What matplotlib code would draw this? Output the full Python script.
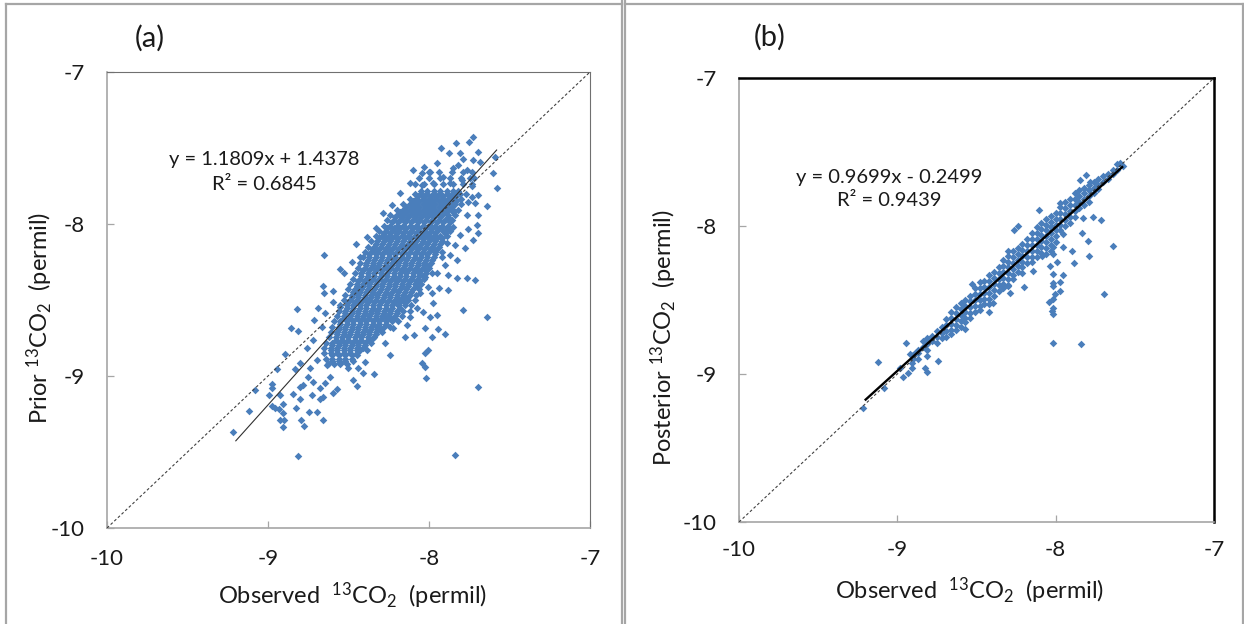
import matplotlib
matplotlib.use("Agg")
import matplotlib.pyplot as plt
from matplotlib.lines import Line2D

plt.rcParams['font.family'] = ['Lato', 'DejaVu Sans']
plt.rcParams['mathtext.fontset'] = 'custom'
plt.rcParams['mathtext.rm'] = 'Lato'
plt.rcParams['mathtext.default'] = 'regular'
plt.rcParams['axes.unicode_minus'] = False

W, H = 1244, 624
BLUE = '#4A7EBB'

# ---------- panel (a): dense core, one observed list per prior level
core_prior_a = [-7.78,-7.815,-7.85,-7.885,-7.92,-7.955,-7.99,-8.025,-8.06,-8.095,-8.13,-8.165,-8.20,-8.235,-8.27,-8.305,
                -8.34,-8.375,-8.41,-8.445,-8.48,-8.515,-8.55,-8.585,-8.62,-8.655,-8.69,-8.725,-8.76,-8.795,-8.83,-8.865,-8.90]
core_obs_a = [
 [-8.05,-8.01,-7.97,-7.93,-7.89,-7.85,-7.82],
 [-8.07,-8.03,-7.99,-7.95,-7.91,-7.87,-7.83],
 [-8.10,-8.06,-8.02,-7.98,-7.94,-7.90,-7.86,-7.83],
 [-8.14,-8.10,-8.06,-8.02,-7.98,-7.94,-7.90,-7.86],
 [-8.18,-8.14,-8.10,-8.06,-8.02,-7.98,-7.94,-7.90,-7.85],
 [-8.21,-8.17,-8.13,-8.09,-8.05,-8.01,-7.97,-7.93,-7.88],
 [-8.23,-8.19,-8.15,-8.11,-8.07,-8.03,-7.99,-7.95,-7.91,-7.87],
 [-8.26,-8.22,-8.18,-8.14,-8.10,-8.06,-8.02,-7.98,-7.94,-7.89],
 [-8.28,-8.24,-8.20,-8.16,-8.12,-8.08,-8.04,-8.00,-7.96,-7.90],
 [-8.31,-8.27,-8.23,-8.19,-8.15,-8.11,-8.07,-8.03,-7.99,-7.95,-7.92],
 [-8.33,-8.29,-8.25,-8.21,-8.17,-8.13,-8.09,-8.05,-8.01,-7.97,-7.93],
 [-8.35,-8.31,-8.27,-8.23,-8.19,-8.15,-8.11,-8.07,-8.03,-7.99,-7.95],
 [-8.37,-8.33,-8.29,-8.25,-8.21,-8.17,-8.13,-8.09,-8.05,-8.01,-7.96],
 [-8.38,-8.34,-8.30,-8.26,-8.22,-8.18,-8.14,-8.10,-8.06,-8.02,-7.98],
 [-8.39,-8.35,-8.31,-8.27,-8.23,-8.19,-8.15,-8.11,-8.07,-8.03,-8.00],
 [-8.41,-8.37,-8.33,-8.29,-8.25,-8.21,-8.17,-8.13,-8.09,-8.05,-8.02],
 [-8.42,-8.38,-8.34,-8.30,-8.26,-8.22,-8.18,-8.14,-8.10,-8.06,-8.04],
 [-8.44,-8.40,-8.36,-8.32,-8.28,-8.24,-8.20,-8.16,-8.12,-8.08,-8.06],
 [-8.45,-8.41,-8.37,-8.33,-8.29,-8.25,-8.21,-8.17,-8.13,-8.08],
 [-8.47,-8.43,-8.39,-8.35,-8.31,-8.27,-8.23,-8.19,-8.15,-8.11],
 [-8.48,-8.44,-8.40,-8.36,-8.32,-8.28,-8.24,-8.20,-8.16,-8.13],
 [-8.50,-8.46,-8.42,-8.38,-8.34,-8.30,-8.26,-8.22,-8.18,-8.15],
 [-8.51,-8.47,-8.43,-8.39,-8.35,-8.31,-8.27,-8.23,-8.18],
 [-8.52,-8.48,-8.44,-8.40,-8.36,-8.32,-8.28,-8.24,-8.20],
 [-8.53,-8.49,-8.45,-8.41,-8.37,-8.33,-8.29,-8.25,-8.22],
 [-8.55,-8.51,-8.47,-8.43,-8.39,-8.35,-8.31,-8.27],
 [-8.56,-8.52,-8.48,-8.44,-8.40,-8.36,-8.32,-8.30],
 [-8.57,-8.53,-8.49,-8.45,-8.41,-8.37,-8.33],
 [-8.58,-8.54,-8.50,-8.46,-8.42,-8.38],
 [-8.60,-8.56,-8.52,-8.48,-8.44,-8.40],
 [-8.61,-8.57,-8.53,-8.49,-8.45,-8.43],
 [-8.60,-8.56,-8.52,-8.48,-8.45],
 [-8.60,-8.56,-8.52,-8.47],
]
# in-between levels of the same core, reaching a little further out
mid_prior_a = [-7.66,-7.70,-7.74,-7.80,-7.835,-7.87,-7.905,-7.94,-7.975,-8.01,-8.045,-8.08,-8.115,-8.15,-8.185,-8.22,-8.255,-8.29,
               -8.325,-8.36,-8.395,-8.43,-8.465,-8.50,-8.535,-8.57,-8.605,-8.64,-8.675,-8.71,-8.745,-8.78,-8.815,-8.85,-8.885,-8.92]
mid_obs_a = [
 [-8.00,-7.94,-7.86,-7.79,-7.73],
 [-8.06,-8.00,-7.93,-7.87,-7.80,-7.72],
 [-8.09,-8.03,-7.97,-7.91,-7.85,-7.79,-7.73],
 [-8.09,-8.05,-8.01,-7.97,-7.93,-7.89,-7.85,-7.81,-7.77],
 [-8.12,-8.08,-8.04,-8.00,-7.96,-7.92,-7.88,-7.84,-7.80],
 [-8.16,-8.12,-8.08,-8.04,-8.00,-7.96,-7.92,-7.88,-7.84,-7.80],
 [-8.20,-8.16,-8.12,-8.08,-8.04,-8.00,-7.96,-7.92,-7.88,-7.85,-7.82],
 [-8.24,-8.20,-8.16,-8.12,-8.08,-8.04,-8.00,-7.96,-7.92,-7.88,-7.84],
 [-8.26,-8.22,-8.18,-8.14,-8.10,-8.06,-8.02,-7.98,-7.94,-7.90,-7.86],
 [-8.28,-8.24,-8.20,-8.16,-8.12,-8.08,-8.04,-8.00,-7.96,-7.92,-7.88],
 [-8.31,-8.27,-8.23,-8.19,-8.15,-8.11,-8.07,-8.03,-7.99,-7.95,-7.91,-7.87],
 [-8.33,-8.29,-8.25,-8.21,-8.17,-8.13,-8.09,-8.05,-8.01,-7.97,-7.93,-7.89],
 [-8.36,-8.32,-8.28,-8.24,-8.20,-8.16,-8.12,-8.08,-8.04,-8.00,-7.96,-7.92],
 [-8.38,-8.34,-8.30,-8.26,-8.22,-8.18,-8.14,-8.10,-8.06,-8.02,-7.98,-7.94],
 [-8.40,-8.36,-8.32,-8.28,-8.24,-8.20,-8.16,-8.12,-8.08,-8.04,-8.00,-7.96,-7.92],
 [-8.41,-8.37,-8.33,-8.29,-8.25,-8.21,-8.17,-8.13,-8.09,-8.05,-8.01,-7.97],
 [-8.43,-8.39,-8.35,-8.31,-8.27,-8.23,-8.19,-8.15,-8.11,-8.07,-8.03,-7.99],
 [-8.44,-8.40,-8.36,-8.32,-8.28,-8.24,-8.20,-8.16,-8.12,-8.08,-8.04,-8.00],
 [-8.46,-8.42,-8.38,-8.34,-8.30,-8.26,-8.22,-8.18,-8.14,-8.10,-8.06,-8.02,-7.98],
 [-8.47,-8.43,-8.39,-8.35,-8.31,-8.27,-8.23,-8.19,-8.15,-8.11,-8.07,-8.03],
 [-8.49,-8.45,-8.41,-8.37,-8.33,-8.29,-8.25,-8.21,-8.17,-8.13,-8.09,-8.05],
 [-8.50,-8.46,-8.42,-8.38,-8.34,-8.30,-8.26,-8.22,-8.18,-8.14,-8.10,-8.06],
 [-8.52,-8.48,-8.44,-8.40,-8.36,-8.32,-8.28,-8.24,-8.20,-8.16,-8.12,-8.08],
 [-8.53,-8.49,-8.45,-8.41,-8.37,-8.33,-8.29,-8.25,-8.21,-8.17,-8.13,-8.09],
 [-8.55,-8.51,-8.47,-8.43,-8.39,-8.35,-8.31,-8.27,-8.23,-8.19,-8.15,-8.11],
 [-8.56,-8.52,-8.48,-8.44,-8.40,-8.36,-8.32,-8.28,-8.24,-8.20,-8.16,-8.12],
 [-8.57,-8.53,-8.49,-8.45,-8.41,-8.37,-8.33,-8.29,-8.25,-8.21,-8.17],
 [-8.59,-8.55,-8.51,-8.47,-8.43,-8.39,-8.35,-8.31,-8.27,-8.23,-8.19],
 [-8.60,-8.56,-8.52,-8.48,-8.44,-8.40,-8.36,-8.32,-8.28,-8.24],
 [-8.61,-8.57,-8.53,-8.49,-8.45,-8.41,-8.37,-8.33,-8.29],
 [-8.62,-8.58,-8.54,-8.50,-8.46,-8.42,-8.38,-8.34],
 [-8.64,-8.60,-8.56,-8.52,-8.48,-8.44,-8.40,-8.36],
 [-8.65,-8.61,-8.57,-8.53,-8.49,-8.45,-8.41],
 [-8.65,-8.61,-8.57,-8.53,-8.49,-8.45],
 [-8.64,-8.60,-8.56,-8.52,-8.48],
 [-8.63,-8.59,-8.55,-8.51],
]
# ---------- panel (a): scattered edge points and outliers
edge_obs_a = [-9.215,-9.118,-9.081,-8.944,-8.892,-8.812,-7.838,-7.698,-7.638,-7.789,-8.019,-8.045,-8.025,-8.004,-8.025,
 -8.652,-8.820,-8.859,-8.814,-8.716,-8.687,-8.657,-8.65,-8.594,-8.553,-8.526,-8.454,-8.429,-8.329,-8.284,
 -7.923,-7.834,-7.729,-7.752,-7.59,-7.605,-7.58,-7.642,-7.694,-7.694,-7.725,-7.766,-7.714,-7.824,-7.88,-7.88,-7.936,-7.948,
 -7.9,-7.946,-8.025,-7.98,-8.091,-8.149,-8.242,-8.273,-8.339,-8.408,-8.45,-8.47,-8.57,-8.598,-8.656,-8.694,-8.743,-8.776,
 -8.797,-8.826,-8.905,-8.899,-8.925,-8.905,-8.932,-8.905,-8.956,-8.977,-8.925,-8.994,-8.973,-8.977,-8.843,-8.801,-8.729,
 -8.677,-8.656,-8.832,-8.801,-8.76,-8.801,-8.78,-8.75,-8.718,-8.677,-8.646,-8.615,-8.74,-8.698,-8.636,-8.718,-8.667,-8.594,
 -8.646,-8.553,-8.46,-8.48,-8.387,-8.232,-8.18,-8.118,-8.097,-8.046,-8.031,-7.994,-7.953,-7.91,-7.874,-7.849,-7.807,-7.787,
 -7.818,-7.725,-7.694,-7.683,-7.766,-7.745,-7.797,-7.869,-7.973,-8.046,-7.731,-7.735,-7.694,-7.756,-7.714,-7.766,-7.704,
 -7.756,-7.807,-7.777,-7.838,-7.828,-7.869,-7.921,-7.89,-7.849,-7.952,-7.984,-8.004,-7.973,-7.994,-8.035,-8.077,-8.118,
 -8.139,-8.221,-8.263,-8.304,-8.346,-8.387,-8.398,-8.439,-8.501,-8.553,-8.325,-8.18,-8.056,-8.025,-7.9]
edge_prior_a = [-9.366,-9.23,-9.094,-8.954,-8.855,-9.526,-9.517,-9.072,-8.614,-8.566,-9.015,-8.912,-8.943,-8.829,-8.851,
 -8.202,-8.562,-8.687,-8.702,-8.632,-8.55,-8.408,-8.452,-8.439,-8.296,-8.325,-8.132,-8.215,-8.028,-7.93,
 -7.502,-7.469,-7.43,-7.458,-7.557,-7.667,-7.765,-7.88,-7.941,-8.062,-8.105,-8.357,-8.368,-8.357,-8.336,-8.434,-8.423,-8.6,
 -8.724,-8.693,-8.687,-8.741,-8.73,-8.741,-8.862,-8.785,-8.989,-8.983,-9.066,-9.026,-9.088,-9.11,-9.29,-9.235,-9.235,-9.329,
 -9.29,-9.208,-9.333,-9.29,-9.29,-9.245,-9.219,-9.186,-9.213,-9.197,-9.125,-9.125,-9.081,-9.055,-9.118,-9.153,-9.125,
 -9.153,-9.136,-8.956,-8.917,-8.818,-9.07,-9.059,-9.005,-9.037,-9.081,-9.048,-9.005,-8.95,-8.895,-8.928,-8.763,-8.676,-8.511,
 -8.588,-8.544,-8.445,-8.248,-8.083,-7.875,-7.798,-7.732,-7.645,-7.667,-7.623,-7.656,-7.601,-7.689,-7.535,-7.634,-7.531,-7.575,
 -7.612,-7.579,-7.524,-7.59,-7.645,-7.7,-7.711,-7.732,-7.732,-7.743,-7.75,-7.82,-7.809,-7.853,-7.864,-7.941,-8.007,
 -8.035,-8.072,-8.16,-8.138,-8.237,-8.204,-8.215,-8.127,-8.018,-8.325,-8.456,-8.412,-8.522,-8.61,-8.577,-8.555,-8.61,
 -8.664,-8.687,-8.61,-8.697,-8.752,-8.829,-8.906,-8.95,-8.95,-8.917,-8.588,-8.5,-8.456,-8.346,-8.27]

# ---------- panel (b): band, one posterior list per observed level
band_obs_b = [-8.90,-8.87,-8.84,-8.81,-8.78,-8.75,-8.72,-8.69,-8.66,-8.63,-8.60,-8.57,-8.54,-8.51,-8.48,-8.45,-8.42,-8.39,-8.36,-8.33,
              -8.30,-8.27,-8.24,-8.21,-8.18,-8.15,-8.12,-8.09,-8.06,-8.03,-8.00,-7.97,-7.94,-7.91,-7.88,-7.85,-7.82,-7.79,-7.76,-7.73,
              -7.70,-7.67,-7.64,-7.61]
band_post_b = [
 [-8.87,-8.90],[-8.84,-8.86,-8.90],[-8.78,-8.82],[-8.76,-8.80,-8.84],[-8.74,-8.78],[-8.71,-8.75,-8.79],[-8.68,-8.72,-8.76],
 [-8.63,-8.67,-8.71,-8.75],[-8.58,-8.62,-8.66,-8.70],[-8.55,-8.59,-8.63,-8.67,-8.70],[-8.52,-8.56,-8.60,-8.64,-8.68],
 [-8.50,-8.54,-8.58,-8.62,-8.65],[-8.47,-8.51,-8.55,-8.59,-8.62],[-8.42,-8.46,-8.50,-8.54,-8.58],
 [-8.38,-8.42,-8.46,-8.50,-8.54,-8.57],[-8.37,-8.41,-8.45,-8.49,-8.53],[-8.33,-8.37,-8.41,-8.45,-8.49,-8.53],
 [-8.31,-8.35,-8.39,-8.43,-8.47],[-8.28,-8.32,-8.36,-8.40,-8.44],[-8.23,-8.27,-8.31,-8.35,-8.39,-8.42],
 [-8.20,-8.24,-8.28,-8.32,-8.36,-8.40],[-8.17,-8.21,-8.25,-8.29,-8.33,-8.36],[-8.15,-8.19,-8.23,-8.27,-8.31],
 [-8.12,-8.16,-8.20,-8.24,-8.28,-8.32],[-8.09,-8.13,-8.17,-8.21,-8.25],[-8.05,-8.09,-8.13,-8.17,-8.21,-8.24],
 [-8.01,-8.05,-8.09,-8.13,-8.17,-8.21],[-7.98,-8.02,-8.06,-8.10,-8.14,-8.18],[-7.95,-7.99,-8.03,-8.07,-8.11,-8.15,-8.19],
 [-7.93,-7.97,-8.01,-8.05,-8.09,-8.13,-8.17],[-7.91,-7.95,-7.99,-8.03,-8.07,-8.11],[-7.87,-7.91,-7.95,-7.99,-8.03],
 [-7.84,-7.88,-7.92,-7.96,-8.00],[-7.82,-7.86,-7.90,-7.94,-7.98],[-7.78,-7.82,-7.86,-7.90,-7.94],[-7.76,-7.80,-7.84,-7.88],
 [-7.74,-7.78,-7.82,-7.86],[-7.72,-7.76,-7.80,-7.84],[-7.70,-7.74,-7.78],[-7.68,-7.72,-7.75],[-7.66,-7.70],[-7.65,-7.68],
 [-7.62,-7.65],[-7.58,-7.62],
]
# ---------- panel (b): scattered points and outliers
edge_obs_b = [-9.219,-9.124,-9.084,-8.945,-8.964,-8.931,-8.983,-8.91,-8.91,-8.92,-8.888,-8.825,-8.81,-8.741,-8.815,-8.573,-8.663,
 -8.419,-8.394,-8.531,-8.299,-8.263,-8.236,-8.105,-8.198,-8.145,-8.299,-8.288,-8.015,-7.842,-7.695,-7.636,-7.716,-7.766,-7.825,
 -7.836,-7.796,-7.792,-7.884,-7.897,-7.952,-8.088,-8.036,-7.99,-8.019,-7.951,-7.973,-8.015,-8.019,-7.973,-8.004,-8.015,-8.044,
 -8.015,-8.025,-8.019,-7.846,-7.808,-7.783,-7.594,-7.573,-7.973,-8.015,-7.952,-8.015]
edge_post_b = [-9.231,-8.917,-9.094,-8.793,-9.019,-8.996,-8.958,-8.958,-8.924,-8.868,-8.856,-8.958,-8.987,-8.913,-8.879,-8.698,-8.732,
 -8.581,-8.522,-8.389,-8.167,-8.025,-7.998,-7.889,-8.409,-8.303,-8.404,-8.45,-8.793,-8.798,-8.461,-8.135,-7.959,-7.941,-7.946,
 -8.05,-8.104,-8.201,-8.251,-8.169,-8.144,-8.205,-8.273,-8.246,-8.325,-8.332,-8.377,-8.382,-8.404,-8.438,-8.461,-8.49,-8.511,
 -8.551,-8.574,-8.592,-7.686,-7.654,-7.704,-7.575,-7.595,-7.844,-8.19,-8.054,-8.144]

fit_a = (1.1809, 1.4378)
fit_b = (0.9699, -0.2499)
fit_range = (-9.2, -7.58)
one_to_one = [-10, -7]
ticks = [-10, -9, -8, -7]

fig = plt.figure(figsize=(W / 100, H / 100), dpi=100, facecolor='white')


def make_axes(l, r, t, b):
    return fig.add_axes([l / W, 1 - b / H, (r - l) / W, (b - t) / H])


def frame(x0, y0, x1, y1):
    fig.add_artist(Line2D([x0 / W, x1 / W], [1 - y0 / H, 1 - y1 / H], color='#A6A6A6', lw=1.6))


frame(6, 4, 622, 4); frame(6, 4, 6, 624); frame(622, 0, 622, 624); frame(625, 0, 625, 624)
frame(625, 4, 1243, 4); frame(1243, 4, 1243, 624)


def panel(ax, xs, ys, fit, thick, ylabel, ylab_px, xlab_px, eq, eq_px, tag, tag_px, padx, pady):
    ax.scatter(xs, ys, marker='D', s=15, color=BLUE, linewidths=0, zorder=3, clip_on=False)
    fx = list(fit_range)
    fy = [fit[0] * v + fit[1] for v in fx]
    ax.plot(one_to_one, one_to_one, color='#404040', lw=0.8, ls=(0, (2.5, 2)), zorder=4)
    ax.plot(fx, fy, color='black' if thick else '#303030', lw=1.7 if thick else 0.8, zorder=5)
    ax.set_xlim(-10, -7)
    ax.set_ylim(-10, -7)
    ax.set_xticks(ticks)
    ax.set_yticks(ticks)
    ax.tick_params(direction='in', length=5, width=0.9, color='#A6A6A6', labelsize=16, labelcolor='#1a1a1a')
    ax.tick_params(axis='x', pad=padx)
    ax.tick_params(axis='y', pad=pady)
    for s in ('left', 'bottom'):
        ax.spines[s].set_color('#A6A6A6')
        ax.spines[s].set_linewidth(1.2)
    for s in ('top', 'right'):
        ax.spines[s].set_color('black' if thick else '#707070')
        ax.spines[s].set_linewidth(1.8 if thick else 0.8)
    ax.set_xlabel('Observed  $^{13}$CO$_{2}$  (permil)', fontsize=17, color='#1a1a1a', va='center')
    ax.xaxis.set_label_coords(xlab_px[0] / W, 1 - xlab_px[1] / H, transform=fig.transFigure)
    ax.set_ylabel(ylabel, fontsize=17, color='#1a1a1a', va='center')
    ax.yaxis.set_label_coords(ylab_px[0] / W, 1 - ylab_px[1] / H, transform=fig.transFigure)
    fig.text(eq_px[0] / W, 1 - eq_px[1] / H, eq, fontsize=14.5, color='#1a1a1a', ha='center', va='center',
             linespacing=1.5)
    fig.text(tag_px[0] / W, 1 - tag_px[1] / H, tag, fontsize=21, color='#1a1a1a', ha='center', va='center')


xa = [v for row in core_obs_a + mid_obs_a for v in row] + edge_obs_a
ya = [p for p, row in zip(core_prior_a + mid_prior_a, core_obs_a + mid_obs_a) for _ in row] + edge_prior_a
xb = [o for o, row in zip(band_obs_b, band_post_b) for _ in row] + edge_obs_b
yb = [v for row in band_post_b for v in row] + edge_post_b

ax_a = make_axes(107, 590, 72, 528)
panel(ax_a, xa, ya, fit_a, False, 'Prior $^{13}$CO$_{2}$  (permil)', (40, 318), (353, 596),
      'y = 1.1809x + 1.4378\nR² = 0.6845', (264, 172), '(a)', (150, 38), 15, 16)
ax_b = make_axes(739, 1214, 78, 522)
panel(ax_b, xb, yb, fit_b, True, 'Posterior $^{13}$CO$_{2}$  (permil)', (664, 338), (970, 591),
      'y = 0.9699x - 0.2499\nR² = 0.9439', (889, 189), '(b)', (770, 37), 13, 16)

fig.savefig('out.png', dpi=100)
